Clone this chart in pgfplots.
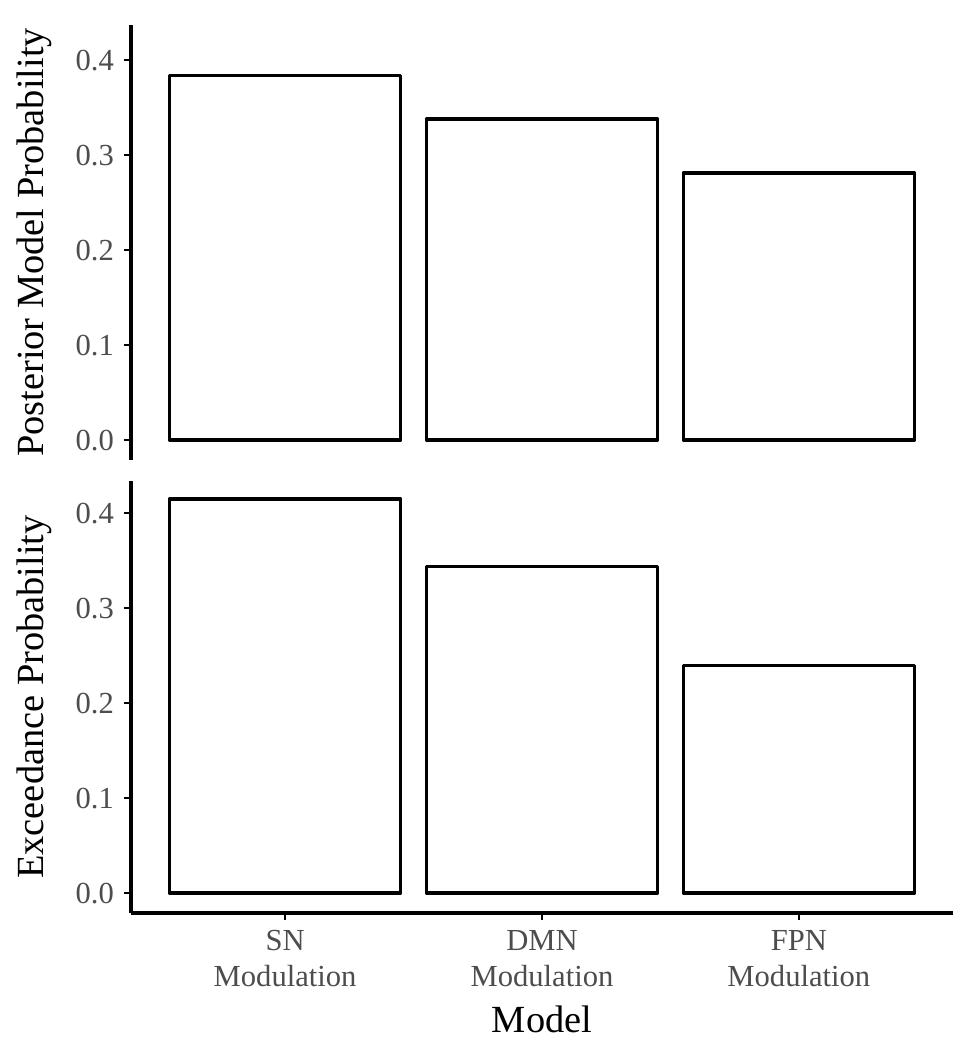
\documentclass[border=0pt]{standalone}
\usepackage{pgfplots}
\pgfplotsset{compat=1.18}
\usepackage{fontspec}
\setmainfont{Liberation Serif}
\definecolor{gray30}{HTML}{4D4D4D}
\pgfplotsset{
  modelbars/.style={
    scale only axis, width=411pt,
    xmin=0.4, xmax=3.6, ymin=-0.021,
    ytick={0,0.1,0.2,0.3,0.4},
    y tick label style={/pgf/number format/fixed, /pgf/number format/fixed zerofill,
      /pgf/number format/precision=1, /pgf/number format/assume math mode=true,
      font=\fontsize{15.3}{18}\selectfont, text=gray30, xshift=-1.5pt},
    x tick label style={font=\fontsize{15.3}{18}\selectfont, text=gray30, align=center, yshift=-1.5pt},
    label style={font=\fontsize{19.2}{22}\selectfont},
    tick align=outside, major tick length=3.5pt,
    tick style={black, line width=1.2pt},
    axis line style={-, black, line width=1.7pt},
    every outer x axis line/.append style={-},
    every outer y axis line/.append style={-},
    ylabel style={at={(axis description cs:-0.107,0.5)}, anchor=base},
  },
  panelbar/.style={ybar, bar width=0.9, bar shift=0pt, fill=white, draw=black,
    line width=1.7pt, line join=round},
}

\begin{document}
\begin{tikzpicture}
\path[use as bounding box] (-65.5pt,12.5pt) rectangle (423pt,-512.5pt);
% top panel: posterior model probability
\begin{axis}[modelbars, at={(0,0)}, anchor=north west, height=217.5pt,
  ymax=0.437, axis x line=none, axis y line*=left,
  ylabel={Posterior Model Probability},
]
\addplot[panelbar] coordinates {(1,0.384) (2,0.338) (3,0.281)};
\end{axis}
% bottom panel: exceedance probability
\begin{axis}[modelbars, at={(0,-228pt)}, anchor=north west, height=216pt,
  ymax=0.434, axis lines*=left,
  xtick={1,2,3}, xticklabels={{SN\\Modulation},{DMN\\Modulation},{FPN\\Modulation}},
  ylabel={Exceedance Probability},
  xlabel={Model}, xlabel style={at={(axis description cs:0.5,0)}, anchor=base, yshift=-59.5pt},
]
\addplot[panelbar] coordinates {(1,0.415) (2,0.344) (3,0.240)};
\end{axis}
\end{tikzpicture}
\end{document}
